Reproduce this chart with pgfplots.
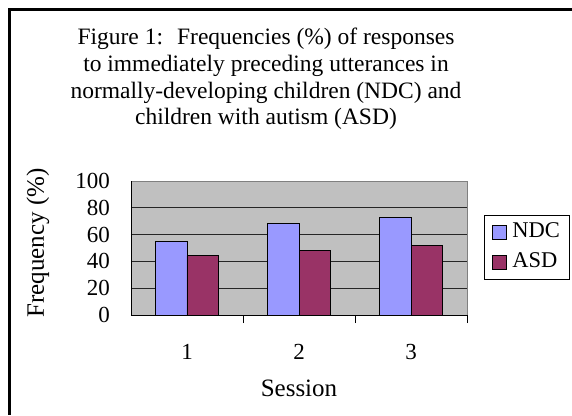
\documentclass[border=0pt]{standalone}
\usepackage{fontspec}
\setmainfont{Liberation Serif}
\usepackage{pgfplots}
\pgfplotsset{compat=1.18}
\usetikzlibrary{backgrounds}
\definecolor{ndc}{RGB}{153,153,255}
\definecolor{asd}{RGB}{153,51,102}
\definecolor{plotbg}{RGB}{192,192,192}
\definecolor{frame}{RGB}{128,128,128}
\begin{document}
\begin{tikzpicture}
\begin{axis}[
  name=ax,
  width=336pt, height=134pt, scale only axis,
  ybar=0pt, bar width=31.5pt,
  xmin=0.5, xmax=3.5, ymin=0, ymax=100,
  xtick={1,2,3}, xticklabels={1,2,3},
  ytick={0,20,40,60,80,100},
  axis background/.style={fill=plotbg},
  axis line style={draw=frame, line width=0.8pt},
  ymajorgrids, grid style={draw=black!85, line width=0.8pt},
  major tick length=0pt,
  xtick pos=bottom, ytick pos=left,
  extra x ticks={1.5,2.5,3.5}, extra x tick labels={},
  extra x tick style={grid=none, major tick length=8pt, tick style={draw=black, line width=0.8pt}},
  /pgf/number format/assume math mode=true,
  ticklabel style={font=\fontsize{23}{24}\selectfont},
  yticklabel style={anchor=east, inner sep=0pt, xshift=-21pt},
  xticklabel style={anchor=center, inner sep=0pt, yshift=-37pt},
  xlabel={Session}, ylabel={Frequency (\%)},
  label style={font=\fontsize{25}{26}\selectfont},
  xlabel style={at={(axis description cs:0.5,-0.545)}, anchor=center},
  ylabel style={at={(axis description cs:-0.277,0.537)}, anchor=center, rotate=0},
  legend style={at={(axis description cs:1.0506,0.746)}, anchor=north west,
    draw=black, line width=0.8pt, font=\fontsize{22.5}{23}\selectfont,
    inner xsep=7.5pt, inner ysep=4pt, row sep=4pt,
    nodes={inner sep=2pt, text height=16pt, text depth=6pt},
    legend cell align=left},
  legend image code/.code={\path[draw=none, fill=none] (-1pt,0) -- (17pt,0);\draw[#1, line width=0.8pt] (-1pt,-7pt) rectangle (13pt,7pt);},
]
\addplot[fill=ndc, draw=black, line width=0.9pt] coordinates {(1,55.2) (2,68.4) (3,73.1)};
\addplot[fill=asd, draw=black, line width=0.9pt] coordinates {(1,44.3) (2,48.0) (3,51.7)};
\draw[black, line width=0.9pt] (rel axis cs:0,1) -- (rel axis cs:0,0) -- (rel axis cs:1,0);
\coordinate (O) at (rel axis cs:0,0);
\legend{NDC,ASD}
\end{axis}
\begin{scope}[shift={(O)}, x=1pt, y=1pt]
  \begin{scope}[on background layer]
    \fill[white] (-131,-100) rectangle (441,315);
  \end{scope}
  \fill[black] (-123,-100) rectangle (-120.4,307);
  \fill[black] (-123,304.4) rectangle (441,307);
  \node[align=center, font=\fontsize{23.5}{26.7}\selectfont] at (135,236)
   {Figure 1:\hspace{0.6em}Frequencies (\%) of responses\\
    to immediately preceding utterances in\\
    normally-developing children (NDC) and\\
    children with autism (ASD)};
\end{scope}
\end{tikzpicture}
\end{document}
